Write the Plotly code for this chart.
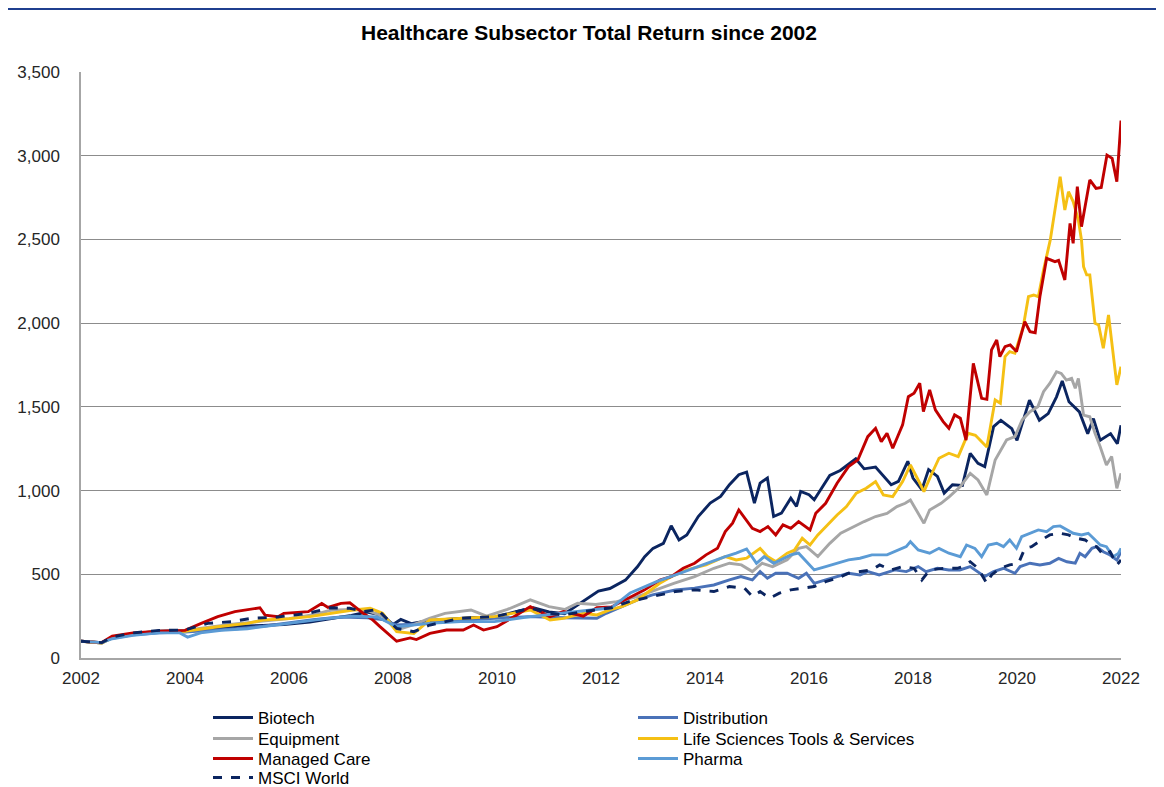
import plotly.graph_objects as go

TITLE = "Healthcare Subsector Total Return since 2002"
Y_TICKS = [0, 500, 1000, 1500, 2000, 2500, 3000, 3500]
X_TICKS = [2002, 2004, 2006, 2008, 2010, 2012, 2014, 2016, 2018, 2020, 2022]

biotech_x = [2002.0, 2002.4, 2002.6, 2003.0, 2003.5, 2004.0, 2004.5, 2005.0, 2005.5, 2005.9, 2006.4, 2006.8, 2007.2, 2007.5, 2007.8, 2008.0, 2008.15, 2008.35, 2008.7, 2009.0, 2009.5, 2010.0, 2010.4, 2010.7, 2011.0, 2011.3, 2011.65, 2011.95, 2012.17, 2012.47, 2012.7, 2012.84, 2013.0, 2013.2, 2013.35, 2013.5, 2013.65, 2013.87, 2014.1, 2014.3, 2014.47, 2014.65, 2014.8, 2014.95, 2015.06, 2015.2, 2015.32, 2015.47, 2015.65, 2015.76, 2015.84, 2016.0, 2016.1, 2016.24, 2016.4, 2016.6, 2016.9, 2017.06, 2017.28, 2017.58, 2017.72, 2017.9, 2018.0, 2018.17, 2018.3, 2018.47, 2018.6, 2018.76, 2018.95, 2019.1, 2019.25, 2019.38, 2019.55, 2019.69, 2019.9, 2020.0, 2020.24, 2020.43, 2020.6, 2020.76, 2020.87, 2021.0, 2021.2, 2021.36, 2021.47, 2021.6, 2021.8, 2021.93, 2022.0]
biotech_y = [100, 90, 125, 145, 160, 165, 175, 190, 195, 200, 215, 235, 255, 275, 255, 200, 230, 205, 225, 230, 240, 245, 280, 300, 275, 265, 335, 400, 415, 465, 545, 605, 655, 685, 790, 705, 735, 845, 925, 965, 1035, 1095, 1110, 925, 1045, 1075, 845, 865, 955, 905, 995, 975, 945, 1010, 1090, 1120, 1190, 1130, 1140, 1035, 1055, 1175, 1075, 1005, 1125, 1085, 985, 1035, 1030, 1222, 1163, 1143, 1382, 1420, 1370, 1300, 1540, 1420, 1460, 1560, 1655, 1530, 1470, 1340, 1430, 1300, 1340, 1280, 1390]

distribution_x = [2002.0, 2002.4, 2002.6, 2003.0, 2003.5, 2004.0, 2004.5, 2005.0, 2005.5, 2006.0, 2006.5, 2007.0, 2007.5, 2007.8, 2008.07, 2008.7, 2009.3, 2009.95, 2010.6, 2011.3, 2011.92, 2012.1, 2012.4, 2012.7, 2012.99, 2013.43, 2013.8, 2014.17, 2014.47, 2014.69, 2014.91, 2015.06, 2015.2, 2015.36, 2015.58, 2015.8, 2015.95, 2016.1, 2016.32, 2016.54, 2016.76, 2016.98, 2017.13, 2017.35, 2017.65, 2017.87, 2018.1, 2018.25, 2018.47, 2018.69, 2018.9, 2019.1, 2019.25, 2019.38, 2019.55, 2019.74, 2019.96, 2020.06, 2020.25, 2020.44, 2020.63, 2020.8, 2020.96, 2021.12, 2021.21, 2021.31, 2021.44, 2021.53, 2021.66, 2021.79, 2021.92, 2022.0]
distribution_y = [100, 92, 118, 138, 150, 155, 165, 175, 190, 210, 230, 245, 240, 230, 197, 207, 225, 237, 247, 240, 237, 267, 307, 347, 377, 406, 417, 436, 466, 486, 466, 516, 476, 506, 506, 476, 506, 446, 466, 486, 506, 496, 516, 496, 526, 516, 546, 516, 536, 526, 526, 546, 516, 486, 516, 536, 506, 546, 566, 556, 566, 595, 575, 566, 625, 605, 655, 665, 635, 615, 585, 635]

equipment_x = [2002.0, 2002.4, 2002.6, 2003.0, 2003.5, 2004.0, 2004.5, 2005.0, 2005.5, 2006.0, 2006.5, 2006.8, 2007.2, 2007.5, 2007.8, 2008.07, 2008.4, 2008.7, 2009.0, 2009.5, 2009.8, 2010.2, 2010.64, 2011.0, 2011.3, 2011.55, 2011.9, 2012.3, 2012.7, 2013.13, 2013.4, 2013.8, 2014.17, 2014.47, 2014.7, 2014.91, 2015.1, 2015.3, 2015.58, 2015.8, 2015.95, 2016.17, 2016.4, 2016.61, 2016.85, 2017.06, 2017.28, 2017.5, 2017.69, 2017.85, 2017.95, 2018.1, 2018.21, 2018.32, 2018.54, 2018.7, 2018.91, 2019.1, 2019.25, 2019.42, 2019.58, 2019.8, 2019.96, 2020.1, 2020.25, 2020.4, 2020.51, 2020.63, 2020.76, 2020.85, 2020.95, 2021.05, 2021.12, 2021.18, 2021.28, 2021.4, 2021.5, 2021.6, 2021.72, 2021.82, 2021.92, 2022.0]
equipment_y = [100, 92, 122, 145, 160, 165, 185, 205, 220, 235, 260, 285, 290, 285, 250, 167, 200, 237, 267, 287, 250, 290, 347, 307, 290, 327, 320, 337, 367, 417, 446, 486, 536, 566, 556, 516, 566, 546, 586, 655, 665, 606, 685, 745, 785, 815, 845, 864, 904, 924, 944, 864, 805, 884, 924, 964, 1024, 1103, 1063, 974, 1183, 1302, 1322, 1422, 1471, 1501, 1591, 1640, 1710, 1700, 1660, 1670, 1611, 1670, 1451, 1441, 1342, 1262, 1153, 1203, 1013, 1103]

lifesci_x = [2002.0, 2002.4, 2002.6, 2003.0, 2003.5, 2004.0, 2004.63, 2005.2, 2005.5, 2006.0, 2006.4, 2006.8, 2007.2, 2007.56, 2007.8, 2008.07, 2008.4, 2008.71, 2009.3, 2009.95, 2010.64, 2011.02, 2011.28, 2011.66, 2011.92, 2012.17, 2012.4, 2012.7, 2013.13, 2013.35, 2013.65, 2014.02, 2014.39, 2014.6, 2014.8, 2015.06, 2015.2, 2015.36, 2015.58, 2015.72, 2015.87, 2016.02, 2016.17, 2016.32, 2016.54, 2016.72, 2016.91, 2017.1, 2017.28, 2017.43, 2017.61, 2017.8, 2017.95, 2018.1, 2018.21, 2018.35, 2018.5, 2018.69, 2018.87, 2019.06, 2019.2, 2019.42, 2019.58, 2019.68, 2019.77, 2019.86, 2019.96, 2020.12, 2020.22, 2020.32, 2020.41, 2020.51, 2020.64, 2020.83, 2020.92, 2020.99, 2021.08, 2021.18, 2021.24, 2021.28, 2021.34, 2021.4, 2021.5, 2021.57, 2021.66, 2021.76, 2021.83, 2021.92, 2022.0]
lifesci_y = [100, 90, 120, 145, 158, 160, 187, 207, 227, 235, 247, 267, 285, 297, 267, 157, 147, 227, 237, 247, 287, 227, 237, 267, 257, 287, 307, 347, 446, 486, 526, 556, 606, 586, 596, 655, 606, 576, 626, 645, 715, 675, 735, 785, 854, 904, 984, 1014, 1054, 974, 964, 1054, 1153, 1063, 994, 1093, 1193, 1223, 1203, 1342, 1330, 1260, 1541, 1521, 1800, 1830, 1820, 1979, 2158, 2168, 2158, 2317, 2497, 2875, 2676, 2785, 2726, 2616, 2497, 2337, 2288, 2288, 1999, 1989, 1850, 2049, 1880, 1631, 1740]

managed_x = [2002.0, 2002.4, 2002.6, 2003.0, 2003.5, 2004.0, 2004.3, 2004.63, 2004.96, 2005.44, 2005.54, 2005.79, 2005.9, 2006.37, 2006.63, 2006.75, 2007.0, 2007.17, 2007.43, 2007.6, 2007.75, 2008.07, 2008.33, 2008.45, 2008.71, 2009.03, 2009.35, 2009.55, 2009.74, 2010.0, 2010.38, 2010.64, 2011.02, 2011.28, 2011.66, 2011.92, 2012.2, 2012.54, 2012.84, 2013.13, 2013.35, 2013.58, 2013.8, 2014.02, 2014.24, 2014.39, 2014.53, 2014.65, 2014.76, 2014.91, 2015.06, 2015.21, 2015.36, 2015.5, 2015.65, 2015.8, 2016.02, 2016.13, 2016.32, 2016.54, 2016.76, 2016.94, 2017.13, 2017.28, 2017.39, 2017.5, 2017.61, 2017.8, 2017.91, 2018.02, 2018.13, 2018.2, 2018.32, 2018.43, 2018.58, 2018.69, 2018.8, 2018.91, 2019.02, 2019.16, 2019.32, 2019.42, 2019.51, 2019.61, 2019.67, 2019.77, 2019.87, 2019.99, 2020.15, 2020.25, 2020.35, 2020.44, 2020.57, 2020.73, 2020.8, 2020.92, 2021.02, 2021.08, 2021.16, 2021.24, 2021.4, 2021.52, 2021.62, 2021.73, 2021.83, 2021.92, 2022.0]
managed_y = [100, 92, 130, 150, 160, 165, 205, 247, 277, 300, 256, 247, 267, 277, 326, 302, 326, 330, 267, 230, 187, 100, 120, 110, 147, 167, 167, 197, 167, 187, 257, 307, 247, 277, 250, 300, 305, 357, 407, 466, 486, 536, 566, 616, 655, 755, 805, 884, 835, 775, 755, 785, 735, 795, 775, 815, 765, 864, 924, 1044, 1143, 1183, 1322, 1372, 1292, 1342, 1253, 1392, 1561, 1581, 1641, 1472, 1601, 1482, 1412, 1372, 1452, 1432, 1302, 1760, 1551, 1545, 1840, 1899, 1800, 1860, 1870, 1830, 2009, 1949, 1943, 2158, 2387, 2367, 2375, 2258, 2596, 2477, 2815, 2576, 2855, 2805, 2810, 3004, 2984, 2845, 3210]

pharma_x = [2002.0, 2002.4, 2002.6, 2003.0, 2003.5, 2003.9, 2004.05, 2004.3, 2004.7, 2005.2, 2005.7, 2006.2, 2006.7, 2007.2, 2007.7, 2008.07, 2008.7, 2009.3, 2009.95, 2010.64, 2011.28, 2011.92, 2012.2, 2012.56, 2013.07, 2013.46, 2014.03, 2014.39, 2014.6, 2014.8, 2014.99, 2015.14, 2015.32, 2015.5, 2015.65, 2015.8, 2015.95, 2016.1, 2016.32, 2016.54, 2016.76, 2016.98, 2017.21, 2017.5, 2017.72, 2017.87, 2017.95, 2018.1, 2018.32, 2018.5, 2018.69, 2018.91, 2019.03, 2019.19, 2019.32, 2019.45, 2019.61, 2019.74, 2019.86, 2019.99, 2020.09, 2020.25, 2020.41, 2020.57, 2020.7, 2020.83, 2020.96, 2021.08, 2021.24, 2021.37, 2021.47, 2021.6, 2021.72, 2021.85, 2021.95, 2022.0]
pharma_y = [100, 92, 115, 135, 150, 150, 125, 150, 165, 175, 195, 215, 235, 250, 245, 187, 207, 217, 217, 247, 267, 287, 300, 388, 456, 500, 567, 606, 626, 651, 566, 606, 566, 596, 616, 626, 576, 526, 546, 566, 586, 596, 616, 616, 645, 665, 695, 645, 626, 655, 626, 605, 675, 655, 605, 675, 685, 665, 705, 655, 725, 745, 765, 755, 785, 789, 765, 745, 735, 745, 715, 675, 665, 605, 625, 655]

msci_x = [2002.0, 2002.4, 2002.6, 2003.0, 2003.5, 2004.0, 2004.44, 2004.9, 2005.28, 2005.73, 2006.37, 2006.8, 2007.17, 2007.43, 2007.7, 2008.07, 2008.4, 2008.71, 2009.3, 2009.95, 2010.38, 2010.64, 2011.02, 2011.28, 2011.66, 2011.92, 2012.2, 2012.54, 2012.99, 2013.43, 2013.8, 2014.17, 2014.47, 2014.76, 2014.91, 2015.06, 2015.24, 2015.43, 2015.65, 2015.87, 2016.1, 2016.32, 2016.54, 2016.76, 2016.98, 2017.21, 2017.36, 2017.58, 2017.8, 2018.02, 2018.17, 2018.32, 2018.61, 2018.85, 2018.95, 2019.1, 2019.25, 2019.42, 2019.51, 2019.67, 2019.86, 2020.03, 2020.15, 2020.28, 2020.47, 2020.63, 2020.83, 2020.99, 2021.15, 2021.31, 2021.44, 2021.53, 2021.66, 2021.79, 2021.92, 2022.0]
msci_y = [100, 92, 125, 150, 165, 167, 207, 217, 237, 243, 267, 300, 297, 277, 290, 177, 157, 197, 237, 247, 277, 297, 267, 257, 277, 287, 300, 337, 367, 397, 407, 397, 427, 417, 367, 397, 357, 387, 407, 417, 427, 456, 476, 506, 516, 526, 556, 526, 546, 536, 466, 526, 536, 536, 546, 575, 536, 446, 496, 536, 556, 566, 655, 665, 705, 735, 745, 735, 715, 705, 675, 665, 615, 635, 556, 585]

# name, x, y, colour, dash, legend column, legend row
series = [
    ("Biotech", biotech_x, biotech_y, "#0B2560", "solid", 0, 0),
    ("Distribution", distribution_x, distribution_y, "#4A72B8", "solid", 1, 0),
    ("Equipment", equipment_x, equipment_y, "#A6A6A6", "solid", 0, 1),
    ("Life Sciences Tools & Services", lifesci_x, lifesci_y, "#F5C014", "solid", 1, 1),
    ("Managed Care", managed_x, managed_y, "#C00000", "solid", 0, 2),
    ("Pharma", pharma_x, pharma_y, "#5B9BD5", "solid", 1, 2),
    ("MSCI World", msci_x, msci_y, "#0B2560", "dash", 0, 3),
]

FONT = "Liberation Sans, Arial, sans-serif"
OFF = 8                      # page body margin of the browser
SCR_L, SCR_T = 81, 72        # plot area corner on screen
PW, PH = 1040, 586
W, H = 1164 - OFF, 787 - OFF
L, T = SCR_L - OFF, SCR_T - OFF
R, B = W - L - PW, H - T - PH
BOTTOM = SCR_T + PH          # screen y of the plot bottom

COL_TEXT_PX = [259, 684]
ROW_Y_PX = [718, 739, 759, 778]
TEXT_OFFSET = 51


def px_x(sx):
    return (sx - SCR_L) / PW


def px_y(sy):
    return (BOTTOM - sy) / PH


fig = go.Figure()
layout_legends = {}
for i, (name, xs, ys, color, dash, col, row) in enumerate(series):
    lid = "legend" if i == 0 else f"legend{i + 1}"
    fig.add_trace(go.Scatter(
        x=xs, y=ys, name=name, mode="lines",
        line=dict(color=color, width=2.9, dash=dash),
        legend=lid,
    ))
    layout_legends[lid] = dict(
        orientation="v",
        x=px_x(COL_TEXT_PX[col] - TEXT_OFFSET), xanchor="left",
        y=px_y(ROW_Y_PX[row]), yanchor="middle",
        itemwidth=40, font=dict(size=17, color="#000000"),
        bgcolor="rgba(0,0,0,0)", borderwidth=0,
    )

fig.update_layout(
    width=W, height=H,
    paper_bgcolor="white", plot_bgcolor="white",
    margin=dict(l=L, r=R, t=T, b=B, autoexpand=False),
    font=dict(family=FONT, size=16, color="#262626"),
    title=dict(text="<b>" + TITLE + "</b>", x=(589 - OFF) / W, xref="container",
               xanchor="center", y=1 - (33 - OFF) / H, yref="container", yanchor="middle",
               font=dict(size=21, color="#000000")),
    showlegend=True,
    xaxis=dict(range=[2002, 2022], tickmode="array", tickvals=X_TICKS,
               ticktext=[str(v) for v in X_TICKS], showgrid=False, zeroline=False,
               showline=True, linecolor="#A6A6A6", linewidth=1.5,
               tickfont=dict(size=17, color="#262626"), ticks="",
               ticklabelstandoff=4),
    yaxis=dict(range=[0, 3500], tickmode="array", tickvals=Y_TICKS,
               ticktext=[f"{v:,}" for v in Y_TICKS], showgrid=True, gridcolor="#8C8C8C",
               gridwidth=1, zeroline=False, showline=True, linecolor="#A6A6A6",
               linewidth=1.5, tickfont=dict(size=17, color="#262626"), ticks="",
               ticklabelstandoff=16),
    **layout_legends,
)

fig.add_shape(type="rect", xref="paper", yref="paper",
              x0=px_x(7), x1=px_x(1200), y0=px_y(820), y1=px_y(9),
              line=dict(color="#1F3F8F", width=2), fillcolor="rgba(0,0,0,0)", layer="below")

fig.write_html("out.html")
